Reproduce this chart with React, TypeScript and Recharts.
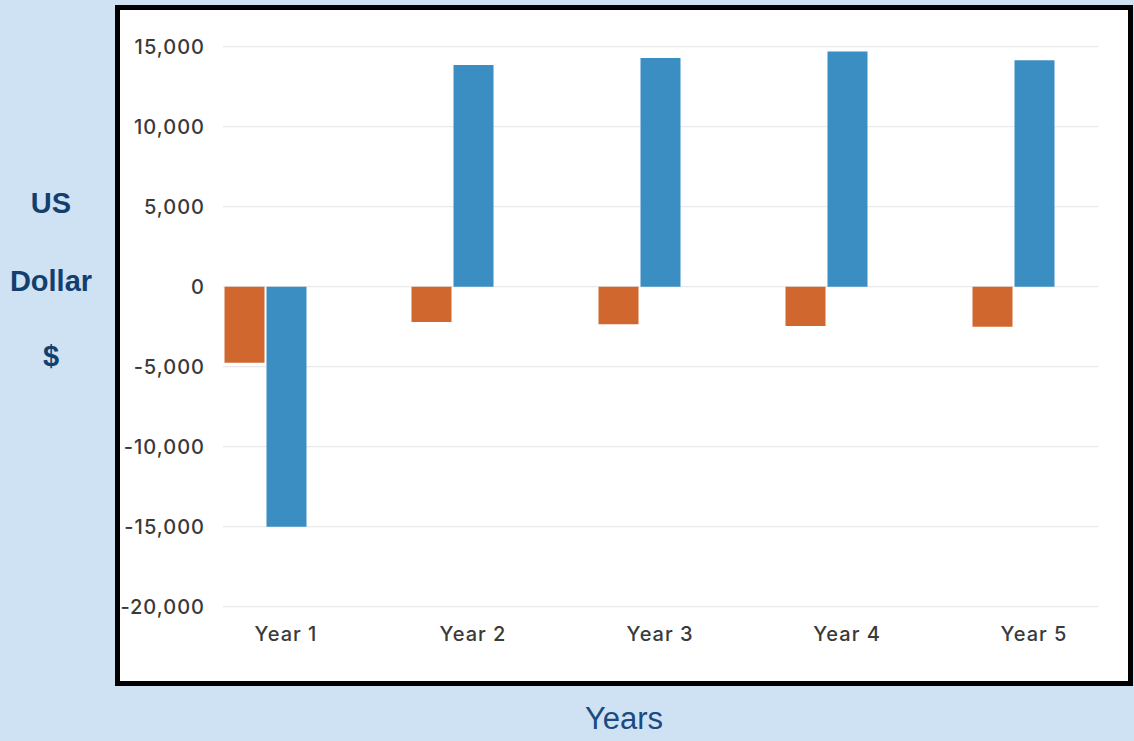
import { BarChart, Bar, XAxis, YAxis, CartesianGrid } from "recharts";

const YEARS = ["Year 1", "Year 2", "Year 3", "Year 4", "Year 5"];
const COSTS = [-4750, -2200, -2350, -2450, -2500];
const NET = [-15000, 13850, 14300, 14700, 14150];
const Y_TICKS = [-20000, -15000, -10000, -5000, 0, 5000, 10000, 15000];

const data = YEARS.map((year, i) => ({ year, cost: COSTS[i], net: NET[i] }));

const tickFont = { fontSize: 20, fill: "#3a3a3a", fontFamily: "Inter", fontWeight: 500, letterSpacing: 1 };
const sideLabel = {
  position: "absolute" as const,
  width: 110,
  left: -4,
  textAlign: "center" as const,
  fontFamily: "'Liberation Sans', Arial, sans-serif",
  fontWeight: 700,
  fontSize: 29,
  color: "#133f6e",
};

export default function App() {
  return (
    <div style={{ position: "absolute", left: 0, top: 0, width: 1134, height: 741, background: "#cfe2f3", overflow: "hidden" }}>
      <div
        style={{
          position: "absolute",
          left: 115,
          top: 5,
          width: 1018,
          height: 681,
          boxSizing: "border-box",
          border: "5px solid #000",
          background: "#fff",
        }}
      />
      <div style={{ ...sideLabel, top: 187 }}>US</div>
      <div style={{ ...sideLabel, top: 265 }}>Dollar</div>
      <div style={{ ...sideLabel, top: 340 }}>$</div>
      <div
        style={{
          position: "absolute",
          left: 324,
          width: 600,
          top: 701,
          textAlign: "center",
          fontFamily: "'Liberation Sans', Arial, sans-serif",
          fontSize: 31,
          color: "#1a4a80",
        }}
      >
        Years
      </div>
      <div style={{ position: "absolute", left: 0, top: 0 }}>
        <BarChart
          width={1134}
          height={741}
          data={data}
          margin={{ top: 46.7, right: 27.5, bottom: 94.3, left: 0 }}
          barSize={40}
          barGap={2}
          barCategoryGap={0}
        >
          <CartesianGrid vertical={false} x={223} width={875} stroke="#e4e4e4" />
          <XAxis
            dataKey="year"
            axisLine={false}
            tickLine={false}
            tickSize={0}
            tickMargin={20}
            height={40}
            tick={{ ...tickFont, dx: 21 }}
          />
          <YAxis
            width={171.5}
            domain={[-20000, 15000]}
            ticks={Y_TICKS}
            axisLine={false}
            tickLine={false}
            tickSize={0}
            tickMargin={0}
            tick={{ ...tickFont, dx: 33.5 }}
            tickFormatter={(v: number) => v.toLocaleString("en-US")}
          />
          <Bar dataKey="cost" fill="#d0672f" isAnimationActive={false} />
          <Bar dataKey="net" fill="#3b8ec1" isAnimationActive={false} />
        </BarChart>
      </div>
    </div>
  );
}
